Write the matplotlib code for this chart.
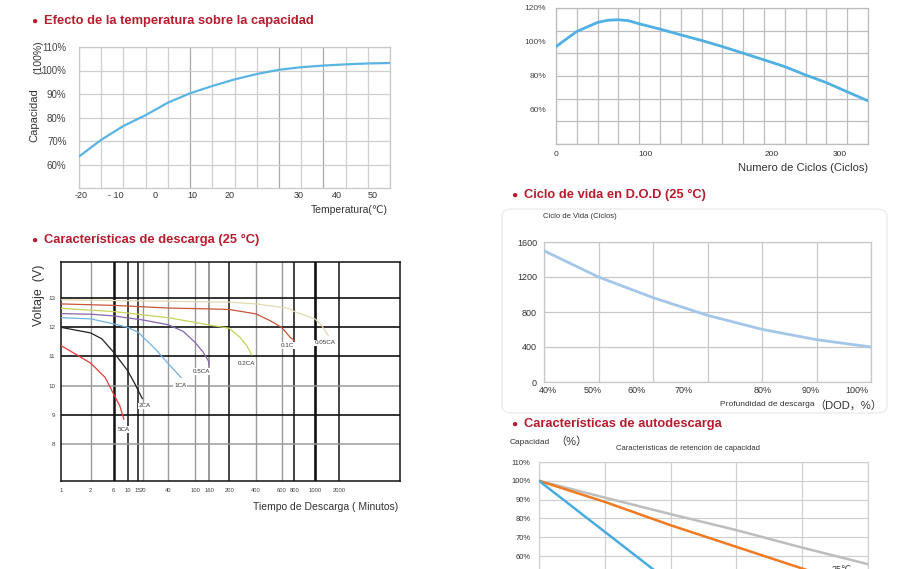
import numpy as np
import matplotlib
matplotlib.use("Agg")
import matplotlib.pyplot as plt
from matplotlib.patches import FancyBboxPatch

plt.rcParams['font.family'] = ['Liberation Sans Narrow', 'Liberation Sans', 'DejaVu Sans', 'Noto Sans CJK SC']

# ---------------- data ----------------
# temperature vs capacity (x in grid steps, labels are irregular in the source)
temp_pos = [0, 1, 2, 3, 4, 5, 6, 7, 8, 9, 10, 11, 12, 13, 14]
temp_cap = [63.4, 70.5, 76.4, 81.0, 86.3, 90.3, 93.4, 96.2, 98.5, 100.3, 101.4, 102.1, 102.6, 103.0, 103.2]
temp_tick_pos = [0.1, 1.64, 3.42, 5.1, 6.76, 9.9, 11.6, 13.2]
temp_tick_lbl = ['-20', '- 10', '0', '10', '20', '30', '40', '50']

# cycle count vs capacity
cyc_pos = [0, 1, 2, 2.5, 3, 3.5, 4, 5, 6, 7, 8, 9, 10, 11, 12, 13, 14, 15]
cyc_cap = [97.3, 106.2, 111.5, 112.8, 113.1, 112.5, 110.7, 107.6, 104.2, 100.9, 97.3,
           93.4, 89.5, 85.5, 80.6, 76.1, 70.7, 65.4]
cyc_tick_pos = [0, 4.31, 10.37, 13.65]
cyc_tick_lbl = ['0', '100', '200', '300']

# discharge curves: minutes, volts
dis_ticks = [1, 2, 6, 10, 15, 20, 40, 100, 160, 200, 400, 600, 800, 1000, 2000]
dis_tick_lbl = ['1', '2', '6', '10', '15', '20', '40', '100', '160', '200', '400', '600', '800', '1000', '2000']
# position of each tick along the (irregular) time axis, plus the right edge
dis_scale_min = dis_ticks + [20000]
dis_scale_pos = [0, 29.7, 52.7, 66.7, 77.3, 82.3, 107.3, 134, 148.3, 168.3, 195, 220.7, 233.3, 254, 278, 339]

t_5ca = [1, 1.4, 2, 4, 6, 7.5, 8.7]
v_5ca = [11.37, 11.08, 10.77, 10.28, 9.71, 9.31, 8.86]
t_2ca = [1, 2, 3.4, 6, 10, 13.2, 15, 18.9]
v_2ca = [11.99, 11.80, 11.60, 11.14, 10.51, 10.06, 9.83, 9.56]
t_1ca = [1, 2, 6, 10, 15, 20, 28, 40, 62]
v_1ca = [12.32, 12.28, 12.11, 11.99, 11.82, 11.65, 11.25, 10.75, 10.28]
t_05ca = [1, 2, 6, 20, 40, 67, 100, 131, 155, 160]
v_05ca = [12.46, 12.44, 12.38, 12.24, 12.08, 11.85, 11.48, 11.14, 10.85, 10.71]
t_02ca = [1, 6, 40, 100, 160, 200, 264, 314, 358]
v_02ca = [12.64, 12.53, 12.32, 12.16, 12.07, 11.96, 11.65, 11.37, 11.05]
t_01c = [1, 6, 40, 160, 200, 400, 499, 600, 728, 800]
v_01c = [12.79, 12.74, 12.65, 12.62, 12.60, 12.45, 12.22, 11.99, 11.65, 11.54]
t_005ca = [1, 40, 200, 400, 700, 800, 1000, 1214, 1468]
v_005ca = [12.93, 12.88, 12.85, 12.79, 12.64, 12.53, 12.28, 12.05, 11.71]

# depth of discharge vs cycle life
dod = [40, 50, 60, 70, 80, 90, 100]
dod_cycles = [1500, 1200, 964, 762, 602, 484, 400]
dod_tick_pos = [40.7, 48.9, 57.0, 65.7, 80.2, 88.9, 97.4]
dod_tick_lbl = ['40%', '50%', '60%', '70%', '80%', '90%', '100%']

# self discharge
sd_x = [0, 1, 2, 3, 4, 5]
sd_blue = [100, 72.9, 45.8]
sd_orange = [100, 88.8, 76.4, 64.9, 53.4, 42.0]
sd_gray = [100, 91.1, 82.3, 73.8, 64.5, 55.7]

# ---------------- layout helpers ----------------
W, H = 897, 569
fig = plt.figure(figsize=(W / 100, H / 100), dpi=100)
RED = '#b51c2d'


def px_axes(l, t, r, b):
    return fig.add_axes([l / W, 1 - b / H, (r - l) / W, (b - t) / H])


def ftext(x, y, s, **kw):
    return fig.text(x / W, 1 - y / H, s, **kw)


def title(x, y, s):
    ftext(x, y, '●', fontsize=7.5, color=RED, va='center', ha='left')
    ftext(x + 13, y, s, fontsize=9.3, color=RED, va='center', ha='left', fontweight='heavy')


def clean(ax, color='#c8c8c8'):
    ax.tick_params(length=0)
    for s in ax.spines.values():
        s.set_color(color)
        s.set_linewidth(0.9)


# ---------------- panel 1: temperature ----------------
title(31, 21, 'Efecto de la temperatura sobre la capacidad')
ax1 = px_axes(79, 47, 390, 188)
ax1.set_xlim(0, 14)
ax1.set_ylim(50, 110)
for i in range(15):
    ax1.axvline(i, color='#a8a8a8' if i in (5, 9, 11) else '#cfcfcf', lw=0.9, zorder=1)
for v in range(60, 111, 10):
    ax1.axhline(v, color='#cfcfcf', lw=0.9, zorder=1)
ax1.plot(temp_pos, temp_cap, color='#5bb4e4', lw=1.6, zorder=3)
ax1.set_xticks(temp_tick_pos, temp_tick_lbl, fontsize=6.5, color='#333')
ax1.set_yticks(range(60, 111, 10), [f'{v}%' for v in range(60, 111, 10)], fontsize=7, color='#444')
clean(ax1)
ax1.tick_params(axis='y', pad=9)
ax1.tick_params(axis='x', pad=2.5)
ftext(34, 115, 'Capacidad', rotation=90, fontsize=8, va='center', ha='center', color='#333')
ftext(38, 57, '(100%)', rotation=90, fontsize=7.5, va='center', ha='center', color='#333')
ftext(388, 210, 'Temperatura(℃)', fontsize=7.5, ha='right', va='center', color='#333')

# ---------------- panel 2: cycle life ----------------
ax2 = px_axes(556, 8, 868, 144)
ax2.set_xlim(0, 15)
ax2.set_ylim(40, 120)
for i in range(16):
    ax2.axvline(i, color='#bdbdbd', lw=0.9, zorder=1)
for v in np.linspace(40, 120, 7):
    ax2.axhline(v, color='#bdbdbd', lw=0.9, zorder=1)
ax2.plot(cyc_pos, cyc_cap, color='#4fb0e3', lw=2.0, zorder=3)
ax2.set_xticks(cyc_tick_pos, cyc_tick_lbl, fontsize=6, color='#333')
ax2.set_yticks([60, 80, 100, 120], ['60%', '80%', '100%', '120%'], fontsize=6, color='#444')
clean(ax2, '#bdbdbd')
ax2.tick_params(axis='y', pad=7)
ax2.tick_params(axis='x', pad=5)
ftext(868, 168, 'Numero de Ciclos (Ciclos)', fontsize=8, ha='right', va='center', color='#333')

# ---------------- panel 3: discharge ----------------
title(31, 240, 'Características de descarga (25 °C)')
ax3 = px_axes(61, 262, 400, 481)


def fwd(x):
    return np.interp(np.log10(np.maximum(x, 1e-9)), np.log10(dis_scale_min), dis_scale_pos)


def inv(p):
    return 10 ** np.interp(p, dis_scale_pos, np.log10(dis_scale_min))


ax3.set_xscale('function', functions=(fwd, inv))
ax3.set_xlim(1, 20000)
ax3.set_ylim(6.75, 14.22)
heavy_x = {6: 1.8, 10: 1.1, 15: 1.1, 200: 1.1, 800: 1.1, 1000: 1.9, 2000: 1.1}
for t in dis_ticks[1:]:
    if t in heavy_x:
        ax3.axvline(t, color='#111', lw=heavy_x[t], zorder=1)
    else:
        ax3.axvline(t, color='#9a9a9a', lw=1.4 if t == 160 else 1.0, zorder=1)
for v in [8, 9, 10, 11, 12, 13]:
    if v in (8, 10):
        ax3.axhline(v, color='#9a9a9a', lw=1.1, zorder=1)
    else:
        ax3.axhline(v, color='#111', lw=1.2, zorder=1)

curves = [
    (t_005ca, v_005ca, '#e4d9b2', '0.05CA', 1361, 11.46),
    (t_01c, v_01c, '#c8563a', '0.1C', 684, 11.37),
    (t_02ca, v_02ca, '#c6d25a', '0.2CA', 314, 10.77),
    (t_05ca, v_05ca, '#8766ad', '0.5CA', 125, 10.48),
    (t_1ca, v_1ca, '#72b2e2', '1CA', 60, 10.02),
    (t_2ca, v_2ca, '#222222', '2CA', 21, 9.31),
    (t_5ca, v_5ca, '#e83a3a', '5CA', 8.7, 8.51),
]
for t, v, c, lbl, lx, ly in curves:
    ax3.plot(t, v, color=c, lw=0.9, zorder=3)
    ax3.text(lx, ly, lbl, fontsize=4.5, color='#333', ha='center', va='center', zorder=4,
             bbox=dict(facecolor='white', edgecolor='none', pad=0.6))
ax3.set_xticks(dis_ticks, dis_tick_lbl, fontsize=4.2, color='#444')
ax3.xaxis.set_minor_locator(matplotlib.ticker.NullLocator())
ax3.set_yticks([8, 9, 10, 11, 12, 13], ['8', '9', '10', '11', '12', '13'], fontsize=4.5, color='#444')
ax3.tick_params(length=0)
ax3.tick_params(axis='x', pad=5)
ax3.tick_params(axis='y', pad=4)
for s in ax3.spines.values():
    s.set_color('#111')
    s.set_linewidth(1.1)
ftext(39, 295, 'Voltaje  (V)', rotation=90, fontsize=9, ha='center', va='center', color='#333')
ftext(326, 507, 'Tiempo de Descarga ( Minutos)', fontsize=7.5, ha='center', va='center', color='#333')

# ---------------- panel 4: DOD ----------------
title(511, 195, 'Ciclo de vida en D.O.D (25 °C)')
box = FancyBboxPatch((502 / W, 1 - 413 / H), 385 / W, 204 / H, transform=fig.transFigure,
                     boxstyle='round,pad=0,rounding_size=0.012', facecolor='white',
                     edgecolor='#ececec', lw=1.0, zorder=-1)
fig.patches.append(box)
ax4 = px_axes(544, 242, 871, 382)
ax4.set_xlim(40, 100)
ax4.set_ylim(0, 1600)
for x in range(40, 101, 10):
    ax4.axvline(x, color='#c8c8c8', lw=0.9, zorder=1)
for v in range(0, 1601, 400):
    ax4.axhline(v, color='#c8c8c8', lw=0.9, zorder=1)
ax4.plot(dod, dod_cycles, color='#a4c6e8', lw=2.0, zorder=3)
ax4.set_xticks(dod_tick_pos, dod_tick_lbl, fontsize=6.5, color='#333')
ax4.set_yticks(range(0, 1601, 400), [str(v) for v in range(0, 1601, 400)], fontsize=6.5, color='#333')
clean(ax4)
ax4.tick_params(axis='y', pad=5)
ax4.tick_params(axis='x', pad=3)
ftext(543, 217, 'Ciclo de Vida (Ciclos)', fontsize=5.5, ha='left', va='center', color='#333')
ftext(814, 405, 'Profundidad de descarga', fontsize=6, ha='right', va='center', color='#333')
ftext(814, 405, '（DOD，%）', fontsize=8, ha='left', va='center', color='#333')

# ---------------- panel 5: self discharge ----------------
title(511, 424, 'Características de autodescarga')
ax5 = px_axes(539, 462, 868, 669)
ax5.set_xlim(0, 5)
ax5.set_ylim(0, 110)
for x in range(0, 6):
    ax5.axvline(x, color='#d0d0d0', lw=0.9, zorder=1)
for v in range(0, 111, 10):
    ax5.axhline(v, color='#d0d0d0', lw=0.9, zorder=1)
ax5.plot(sd_x, sd_gray, color='#bdbdbd', lw=1.8, zorder=3)
ax5.plot(sd_x, sd_orange, color='#f07a22', lw=1.8, zorder=3)
ax5.plot(sd_x[:3], sd_blue, color='#49ace0', lw=1.8, zorder=3)
ax5.set_xticks([])
ax5.set_yticks(range(60, 111, 10), [f'{v}%' for v in range(60, 111, 10)], fontsize=5.5, color='#333')
clean(ax5, '#d0d0d0')
ax5.tick_params(axis='y', pad=6)
ax5.text(4.6, 55, '25℃', fontsize=6.5, ha='center', va='top', color='#333')
ftext(510, 443, 'Capacidad', fontsize=6, ha='left', va='center', color='#333')
ftext(555, 442, '（%）', fontsize=8, ha='left', va='center', color='#333')
ftext(688, 448, 'Características de retención de capacidad', fontsize=5.5, ha='center', va='center', color='#333')

fig.savefig('out.png', dpi=100)
